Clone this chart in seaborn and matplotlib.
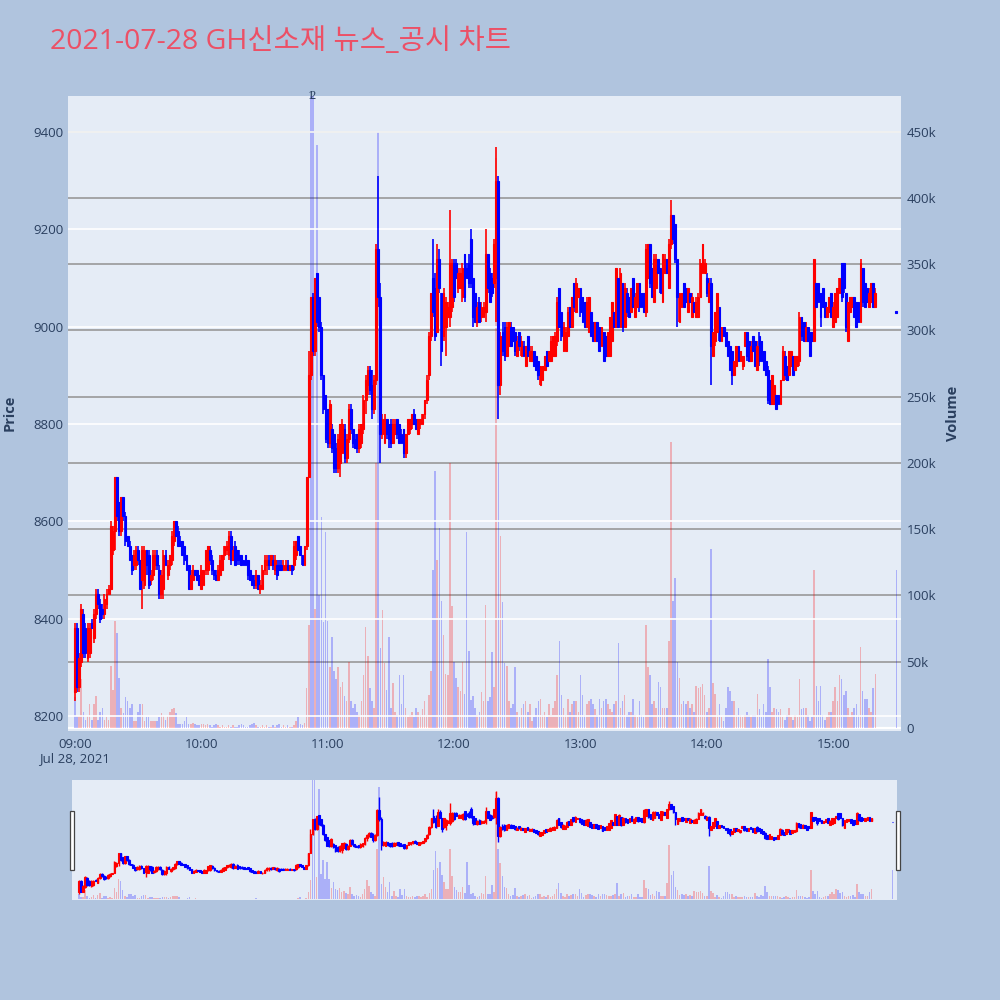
import numpy as np
import matplotlib
matplotlib.use("Agg")
import matplotlib.pyplot as plt
from matplotlib.patches import Rectangle
import seaborn as sns

sns.set_theme(style="white")
plt.rcParams['font.family'] = ['Open Sans', 'Noto Sans CJK KR', 'DejaVu Sans']

TITLE = "2021-07-28 GH신소재 뉴스_공시 차트"

# one candle per minute from 09:00
OPEN = [
    8250, 8380, 8260, 8310, 8410, 8380, 8320, 8330, 8390, 8360,
    8410, 8450, 8430, 8420, 8410, 8430, 8450, 8460, 8540, 8580,
    8690, 8640, 8580, 8650, 8610, 8570, 8550, 8530, 8510, 8510,
    8540, 8520, 8480, 8470, 8540, 8530, 8480, 8490, 8510, 8530,
    8500, 8450, 8460, 8530, 8490, 8510, 8520, 8560, 8600, 8580,
    8560, 8560, 8550, 8530, 8510, 8460, 8480, 8500, 8500, 8490,
    8460, 8470, 8500, 8500, 8540, 8520, 8500, 8490, 8480, 8490,
    8500, 8530, 8540, 8530, 8570, 8520, 8550, 8540, 8530, 8530,
    8520, 8530, 8520, 8500, 8490, 8480, 8470, 8490, 8460, 8460,
    8500, 8510, 8520, 8510, 8520, 8500, 8510, 8510, 8510, 8500,
    8500, 8510, 8500, 8510, 8510, 8530, 8570, 8550, 8530, 8510,
    8550, 8690, 8900, 9060, 8950, 9110, 9060, 9000, 8900, 8860,
    8830, 8760, 8790, 8780, 8750, 8710, 8720, 8740, 8790, 8730,
    8770, 8830, 8790, 8770, 8780, 8750, 8760, 8790, 8850, 8880,
    8910, 8880, 8830, 8890, 9160, 9060, 8780, 8760, 8810, 8800,
    8800, 8760, 8780, 8810, 8800, 8780, 8790, 8740, 8780, 8790,
    8800, 8820, 8810, 8780, 8800, 8800, 8820, 8850, 8900, 8980,
    9100, 9080, 8990, 9140, 9070, 8980, 9000, 9020, 9020, 9040,
    9130, 9130, 9080, 9080, 9060, 9150, 9120, 9130, 9180, 9100,
    9070, 9010, 9050, 9020, 9020, 9030, 9150, 9110, 9100, 9090,
    9100, 9300, 8880, 8990, 9000, 8940, 8960, 9000, 9000, 8990,
    8940, 8990, 8940, 8960, 8920, 8980, 8930, 8930, 8950, 8940,
    8930, 8880, 8890, 8910, 8950, 8930, 8930, 8940, 8940, 8970,
    9080, 9030, 8950, 8950, 8980, 9040, 9000, 9090, 9030, 9060,
    9080, 9060, 9050, 9000, 8990, 9030, 9010, 8970, 9010, 9000,
    8960, 8990, 8980, 8940, 8940, 8970, 9030, 9000, 9100, 9000,
    9090, 9000, 9070, 9060, 9030, 9100, 9020, 9040, 9090, 9070,
    9070, 9030, 9100, 9170, 9120, 9050, 9080, 9140, 9120, 9050,
    9110, 9140, 9080, 9170, 9230, 9210, 9140, 9010, 9040, 9090,
    9080, 9030, 9070, 9020, 9050, 9020, 9020, 9060, 9110, 9110,
    9100, 9050, 9090, 8940, 8970, 8990, 9040, 8970, 9000, 8990,
    8970, 8960, 8950, 8900, 8920, 8960, 8930, 8920, 8960, 8990,
    8970, 8930, 8980, 8970, 8910, 8980, 8970, 8950, 8930, 8910,
    8890, 8840, 8840, 8860, 8860, 8840, 8890, 8940, 8920, 8900,
    8920, 8940, 8910, 8920, 8930, 9020, 9010, 8970, 9000, 8990,
    8990, 8970, 9090, 9090, 9070, 9080, 9050, 9020, 9030, 9070,
    9000, 9010, 9020, 9070, 9130, 9130, 9070, 8970, 9030, 9040,
    9060, 9050, 9050, 9010, 9120, 9090, 9080, 9040, 9050, 9090,
    9040,
]
HIGH = [
    8390, 8390, 8330, 8430, 8420, 8390, 8390, 8390, 8400, 8420,
    8460, 8460, 8440, 8430, 8450, 8460, 8470, 8600, 8590, 8690,
    8690, 8640, 8650, 8650, 8620, 8570, 8560, 8530, 8540, 8550,
    8550, 8520, 8550, 8550, 8540, 8540, 8500, 8540, 8540, 8540,
    8510, 8500, 8540, 8540, 8520, 8530, 8580, 8600, 8600, 8590,
    8570, 8560, 8550, 8530, 8510, 8500, 8510, 8500, 8500, 8490,
    8510, 8500, 8540, 8550, 8550, 8530, 8500, 8500, 8510, 8530,
    8530, 8550, 8560, 8580, 8580, 8550, 8560, 8540, 8540, 8530,
    8520, 8530, 8520, 8500, 8490, 8490, 8500, 8490, 8480, 8510,
    8530, 8530, 8530, 8530, 8530, 8530, 8520, 8520, 8520, 8520,
    8520, 8520, 8510, 8510, 8560, 8560, 8570, 8550, 8530, 8550,
    8690, 8950, 9060, 9070, 9100, 9110, 9060, 9010, 8900, 8860,
    8830, 8850, 8800, 8780, 8760, 8780, 8800, 8810, 8800, 8780,
    8840, 8840, 8790, 8780, 8780, 8800, 8800, 8860, 8900, 8920,
    8920, 8910, 8900, 9170, 9310, 9090, 8820, 8820, 8810, 8800,
    8810, 8810, 8810, 8810, 8800, 8790, 8790, 8780, 8810, 8810,
    8820, 8830, 8810, 8810, 8810, 8820, 8850, 8900, 8990, 9070,
    9180, 9110, 9170, 9160, 9070, 9080, 9060, 9050, 9240, 9140,
    9140, 9140, 9120, 9120, 9130, 9150, 9130, 9150, 9200, 9100,
    9070, 9050, 9060, 9050, 9050, 9200, 9150, 9120, 9110, 9180,
    9370, 9310, 8990, 9010, 9010, 9010, 9010, 9010, 9000, 8990,
    8980, 8990, 8980, 8970, 8960, 8980, 8960, 8960, 8950, 8940,
    8930, 8920, 8920, 8940, 8950, 8950, 8980, 8980, 8990, 9060,
    9080, 9030, 9010, 9000, 9040, 9040, 9060, 9090, 9100, 9080,
    9080, 9060, 9050, 9060, 9060, 9030, 9010, 9010, 9010, 9000,
    9000, 8990, 8980, 8990, 9020, 9050, 9030, 9120, 9100, 9120,
    9090, 9090, 9080, 9060, 9080, 9100, 9070, 9090, 9090, 9070,
    9070, 9170, 9170, 9170, 9120, 9150, 9150, 9140, 9120, 9150,
    9150, 9140, 9180, 9260, 9230, 9210, 9140, 9070, 9070, 9090,
    9080, 9080, 9070, 9070, 9050, 9060, 9070, 9140, 9170, 9140,
    9110, 9100, 9100, 8990, 9030, 9070, 9040, 9000, 9000, 8990,
    8970, 8960, 8950, 8930, 8960, 8960, 8950, 8940, 8990, 8990,
    8970, 8970, 8980, 8970, 8970, 8990, 8970, 8950, 8930, 8920,
    8890, 8900, 8880, 8860, 8860, 8890, 8960, 8950, 8920, 8950,
    8950, 8940, 8940, 8940, 9030, 9020, 9010, 9010, 9000, 8990,
    8990, 9140, 9090, 9090, 9070, 9080, 9050, 9040, 9060, 9070,
    9050, 9070, 9080, 9100, 9130, 9130, 9070, 9050, 9060, 9060,
    9060, 9050, 9050, 9140, 9120, 9090, 9080, 9080, 9090, 9090,
    9080,
]
LOW = [
    8230, 8250, 8250, 8300, 8320, 8320, 8310, 8320, 8380, 8350,
    8400, 8420, 8390, 8400, 8400, 8420, 8450, 8460, 8530, 8540,
    8600, 8570, 8570, 8600, 8550, 8550, 8520, 8490, 8500, 8500,
    8510, 8460, 8420, 8460, 8490, 8460, 8470, 8480, 8500, 8500,
    8440, 8440, 8440, 8510, 8480, 8500, 8510, 8550, 8570, 8550,
    8550, 8530, 8510, 8500, 8460, 8460, 8480, 8490, 8480, 8470,
    8460, 8470, 8490, 8490, 8510, 8490, 8480, 8480, 8480, 8490,
    8500, 8520, 8530, 8520, 8510, 8520, 8510, 8510, 8510, 8510,
    8510, 8510, 8480, 8480, 8470, 8460, 8460, 8460, 8450, 8460,
    8490, 8490, 8500, 8510, 8500, 8490, 8480, 8500, 8500, 8500,
    8500, 8500, 8500, 8490, 8500, 8520, 8540, 8530, 8510, 8510,
    8540, 8690, 8890, 8940, 8940, 9000, 8990, 8890, 8820, 8760,
    8750, 8750, 8740, 8700, 8700, 8700, 8690, 8740, 8720, 8720,
    8760, 8780, 8750, 8750, 8740, 8740, 8750, 8780, 8820, 8860,
    8860, 8810, 8820, 8880, 9040, 8720, 8770, 8760, 8770, 8750,
    8750, 8760, 8780, 8770, 8760, 8760, 8730, 8730, 8780, 8780,
    8790, 8800, 8790, 8780, 8790, 8800, 8810, 8840, 8890, 8970,
    9020, 8970, 8990, 9070, 8920, 8970, 8940, 9020, 9000, 9030,
    9050, 9100, 9070, 9080, 9050, 9050, 9100, 9080, 9080, 9000,
    9010, 9000, 9010, 9010, 9020, 9010, 9070, 9050, 9060, 9080,
    9010, 8810, 8860, 8940, 8930, 8940, 8960, 8960, 8970, 8940,
    8940, 8950, 8940, 8940, 8920, 8940, 8930, 8930, 8920, 8910,
    8890, 8880, 8890, 8910, 8920, 8930, 8930, 8940, 8940, 8960,
    9000, 8970, 8950, 8950, 8980, 9000, 9000, 9030, 9030, 9060,
    9020, 9010, 9000, 9000, 8990, 8980, 8970, 8970, 8970, 8950,
    8960, 8930, 8940, 8940, 8940, 8970, 9000, 9000, 9000, 9000,
    8990, 9000, 9020, 9020, 9030, 9040, 9020, 9040, 9030, 9040,
    9030, 9020, 9100, 9080, 9060, 9050, 9080, 9110, 9070, 9050,
    9110, 9110, 9080, 9160, 9170, 9130, 9000, 9010, 9040, 9040,
    9050, 9030, 9050, 9020, 9030, 9020, 9020, 9060, 9110, 9110,
    9060, 9050, 8880, 8940, 8960, 8990, 8970, 8970, 8980, 8960,
    8940, 8910, 8880, 8900, 8920, 8930, 8930, 8910, 8960, 8930,
    8930, 8930, 8950, 8920, 8910, 8920, 8930, 8910, 8900, 8840,
    8840, 8840, 8840, 8830, 8840, 8840, 8890, 8890, 8890, 8900,
    8920, 8900, 8910, 8920, 8920, 8970, 8970, 8970, 8970, 8940,
    8970, 8970, 9040, 9050, 9000, 9040, 9020, 9020, 9030, 9020,
    9000, 9010, 9020, 9070, 9050, 9070, 8990, 8970, 9030, 9040,
    9020, 9000, 9010, 9010, 9040, 9040, 9050, 9040, 9050, 9040,
    9040,
]
CLOSE = [
    8380, 8260, 8320, 8420, 8330, 8330, 8380, 8380, 8380, 8410,
    8450, 8430, 8400, 8410, 8440, 8450, 8460, 8590, 8580, 8690,
    8610, 8580, 8650, 8610, 8560, 8550, 8520, 8500, 8530, 8540,
    8520, 8460, 8540, 8540, 8510, 8470, 8490, 8530, 8530, 8510,
    8450, 8490, 8530, 8510, 8510, 8530, 8570, 8600, 8570, 8550,
    8550, 8530, 8520, 8500, 8460, 8490, 8500, 8490, 8480, 8470,
    8500, 8500, 8540, 8550, 8520, 8500, 8490, 8480, 8500, 8520,
    8530, 8550, 8550, 8570, 8520, 8540, 8510, 8520, 8520, 8510,
    8510, 8510, 8490, 8480, 8470, 8470, 8490, 8460, 8470, 8500,
    8520, 8520, 8510, 8530, 8510, 8520, 8490, 8500, 8500, 8510,
    8510, 8500, 8510, 8500, 8550, 8560, 8540, 8530, 8510, 8550,
    8690, 8900, 9060, 8950, 9100, 9010, 9000, 8900, 8830, 8770,
    8760, 8840, 8750, 8710, 8710, 8770, 8800, 8800, 8730, 8770,
    8830, 8790, 8760, 8750, 8750, 8790, 8800, 8850, 8890, 8910,
    8870, 8830, 8890, 9160, 9060, 8780, 8810, 8810, 8780, 8770,
    8760, 8800, 8800, 8780, 8760, 8760, 8740, 8780, 8810, 8810,
    8820, 8800, 8790, 8810, 8810, 8820, 8850, 8890, 8980, 9070,
    9030, 8980, 9140, 9080, 8950, 9070, 9050, 9040, 9130, 9130,
    9060, 9100, 9110, 9110, 9120, 9060, 9100, 9090, 9090, 9020,
    9010, 9040, 9010, 9040, 9040, 9150, 9080, 9050, 9070, 9170,
    9300, 8880, 8980, 8950, 8940, 9000, 9010, 8960, 8970, 8950,
    8970, 8960, 8970, 8940, 8960, 8940, 8950, 8950, 8920, 8910,
    8900, 8920, 8920, 8940, 8920, 8950, 8970, 8980, 8980, 9050,
    9000, 8980, 9000, 8990, 9030, 9000, 9060, 9040, 9090, 9080,
    9030, 9010, 9000, 9050, 9060, 8980, 8970, 9010, 8970, 8950,
    9000, 8930, 8940, 8990, 9020, 9050, 9000, 9120, 9000, 9110,
    9000, 9080, 9030, 9020, 9080, 9040, 9060, 9090, 9040, 9040,
    9030, 9160, 9170, 9090, 9060, 9140, 9140, 9110, 9070, 9150,
    9140, 9110, 9170, 9230, 9180, 9140, 9060, 9070, 9070, 9040,
    9050, 9080, 9050, 9060, 9030, 9050, 9060, 9130, 9170, 9130,
    9070, 9090, 8960, 8990, 9030, 9070, 8970, 9000, 8980, 8960,
    8940, 8910, 8900, 8930, 8960, 8930, 8950, 8940, 8990, 8940,
    8930, 8960, 8950, 8920, 8960, 8930, 8930, 8910, 8900, 8850,
    8840, 8900, 8880, 8830, 8840, 8890, 8950, 8900, 8890, 8950,
    8950, 8900, 8940, 8940, 9020, 8980, 8970, 9000, 8970, 8940,
    8970, 9140, 9040, 9050, 9020, 9040, 9020, 9040, 9060, 9020,
    9040, 9070, 9080, 9100, 9060, 9080, 9000, 9050, 9060, 9060,
    9020, 9000, 9010, 9130, 9050, 9040, 9050, 9070, 9090, 9040,
    9070,
]
VOLUME_K = [
    23, 9, 9, 37, 12, 6, 9, 18, 6, 18,
    24, 6, 12, 15, 6, 8, 6, 47, 29, 81,
    72, 38, 15, 11, 23, 20, 15, 18, 5, 5,
    12, 18, 18, 5, 8, 8, 5, 5, 5, 5,
    8, 11, 9, 6, 9, 12, 14, 15, 11, 3,
    3, 3, 5, 8, 3, 3, 4, 3, 2, 2,
    3, 3, 2, 3, 2, 1, 2, 3, 2, 1,
    2, 1, 1, 2, 1, 2, 1, 1, 2, 3,
    2, 1, 1, 2, 3, 4, 2, 1, 1, 2,
    1, 2, 1, 1, 2, 1, 2, 3, 1, 2,
    1, 2, 1, 1, 2, 5, 8, 3, 2, 4,
    30, 78, 500, 500, 90, 440, 100, 159, 80, 148,
    81, 46, 69, 43, 37, 46, 31, 35, 24, 20,
    50, 20, 15, 18, 12, 10, 20, 40, 76, 54,
    30, 20, 15, 200, 450, 60, 89, 49, 29, 69,
    15, 34, 12, 10, 40, 18, 40, 15, 8, 10,
    12, 8, 15, 12, 10, 14, 20, 10, 25, 43,
    119, 194, 127, 151, 96, 70, 41, 40, 200, 92,
    50, 38, 31, 28, 50, 26, 148, 58, 21, 24,
    15, 10, 12, 27, 20, 93, 20, 23, 57, 31,
    430, 200, 145, 95, 49, 47, 20, 15, 18, 46,
    12, 8, 15, 18, 20, 12, 18, 5, 8, 15,
    20, 22, 10, 12, 8, 18, 10, 15, 20, 40,
    66, 25, 15, 10, 22, 12, 18, 20, 20, 12,
    40, 25, 10, 18, 20, 22, 18, 14, 10, 22,
    15, 20, 22, 18, 14, 12, 18, 20, 64, 15,
    20, 25, 10, 12, 12, 22, 10, 8, 20, 10,
    8, 78, 46, 40, 18, 20, 15, 35, 31, 15,
    15, 15, 66, 216, 96, 113, 50, 38, 18, 20,
    18, 20, 15, 18, 12, 32, 30, 31, 33, 25,
    12, 15, 135, 34, 26, 10, 18, 8, 5, 15,
    31, 28, 20, 20, 10, 15, 10, 8, 10, 12,
    10, 8, 10, 10, 26, 14, 8, 18, 12, 52,
    31, 12, 15, 14, 12, 14, 8, 6, 10, 15,
    8, 6, 10, 8, 37, 14, 15, 15, 10, 5,
    8, 119, 32, 20, 32, 10, 6, 8, 12, 12,
    20, 31, 20, 40, 37, 25, 28, 15, 8, 12,
    15, 18, 10, 61, 28, 22, 22, 15, 12, 30,
    41,
]
VOLUME_BLUE_AT = [0, 112]          # minutes whose volume bar is blue although the candle rose

AUCTION_MINUTE = 390                # 15:30 closing single price
AUCTION_PRICE = 9030
AUCTION_VOLUME_K = 119

NEWS_MINUTES = [112, 113]
NEWS_LABELS = ["1", "2"]

TIME_TICK_MINUTES = [0, 60, 120, 180, 240, 300, 360]
TIME_TICK_LABELS = ["09:00\nJul 28, 2021", "10:00", "11:00", "12:00", "13:00", "14:00", "15:00"]
PRICE_TICKS = [8200, 8400, 8600, 8800, 9000, 9200, 9400]
VOLUME_TICKS = [0, 50000, 100000, 150000, 200000, 250000, 300000, 350000, 400000, 450000]
VOLUME_TICK_LABELS = ["0", "50k", "100k", "150k", "200k", "250k", "300k", "350k", "400k", "450k"]

INC = "#ff0000"
DEC = "#0000ff"
INC_FADE = (1.0, 0.0, 0.0, 0.25)
DEC_FADE = (0.0, 0.0, 1.0, 0.25)
BG = "#e5ecf6"
PAPER = "#b0c4de"
TXT = "#2a3f5f"


def draw_market(ax_p, ax_v, body_w=0.85, wick_lw=1.2, edge_lw=0.8):
    o = np.array(OPEN, float)
    h = np.array(HIGH, float)
    l = np.array(LOW, float)
    c = np.array(CLOSE, float)
    x = np.arange(len(c))
    up = c > o
    cols = np.where(up, INC, DEC)
    vcols = [DEC_FADE if (i in VOLUME_BLUE_AT or not up[i]) else INC_FADE for i in range(len(x))]
    ax_v.bar(x, np.array(VOLUME_K) * 1000, width=0.75, color=vcols, linewidth=0, zorder=2)
    ax_v.bar([AUCTION_MINUTE], [AUCTION_VOLUME_K * 1000], width=0.75, color=[DEC_FADE],
             linewidth=0, zorder=2)
    lo = np.minimum(l, np.minimum(o, c))
    hi = np.maximum(h, np.maximum(o, c))
    ax_p.vlines(x, lo, hi, colors=cols, linewidth=wick_lw, zorder=3)
    bottoms = np.minimum(o, c)
    heights = np.maximum(np.abs(c - o), 4)
    ax_p.bar(x, heights, bottom=bottoms, width=body_w, color=cols, edgecolor=cols,
             linewidth=edge_lw, zorder=4)
    ax_p.bar([AUCTION_MINUTE], [4], bottom=[AUCTION_PRICE - 2], width=body_w, color=DEC,
             edgecolor=DEC, linewidth=edge_lw, zorder=4)


fig = plt.figure(figsize=(10, 10), dpi=100)
fig.patch.set_facecolor(PAPER)

XLIM = (-3.3, 392.2)

# ---- main chart ----
ax_p = fig.add_axes([0.068, 0.269, 0.833, 0.635])
ax_v = ax_p.twinx()
ax_v.set_zorder(0)
ax_p.set_zorder(1)
ax_p.patch.set_visible(False)
ax_v.patch.set_visible(True)
ax_v.patch.set_facecolor(BG)

draw_market(ax_p, ax_v)

ax_p.set_xlim(*XLIM)
ax_p.set_ylim(8169, 9474)
ax_v.set_ylim(-2300, 477000)

ax_p.set_yticks(PRICE_TICKS)
ax_p.set_yticklabels([str(v) for v in PRICE_TICKS])
ax_v.set_yticks(VOLUME_TICKS)
ax_v.set_yticklabels(VOLUME_TICK_LABELS)
ax_p.set_xticks(TIME_TICK_MINUTES)
ax_p.set_xticklabels(TIME_TICK_LABELS, linespacing=1.15)

ax_p.tick_params(axis="y", length=0, pad=3, labelsize=9.5, labelcolor=TXT)
ax_v.tick_params(axis="y", length=0, pad=4, labelsize=9.5, labelcolor=TXT)
ax_p.tick_params(axis="x", length=0, pad=5, labelsize=9.5, labelcolor=TXT)

ax_p.yaxis.grid(True, color="white", linewidth=1.2, zorder=0.5)
ax_p.xaxis.grid(False)
ax_v.yaxis.grid(True, color="#999999", linewidth=1.2)
ax_v.xaxis.grid(False)
ax_v.axhline(0, color="white", linewidth=1.6, zorder=1)
ax_p.set_axisbelow(True)
ax_v.set_axisbelow(True)

for a in (ax_p, ax_v):
    for s in a.spines.values():
        s.set_visible(False)

for m, lab in zip(NEWS_MINUTES, NEWS_LABELS):
    ax_v.text(m, 477000, lab, ha="center", va="center", fontsize=9, color=TXT,
              family=["Liberation Serif", "DejaVu Serif"], clip_on=False, zorder=6)

fig.text(0.010, 0.587, "Price", rotation=90, ha="center", va="center",
         fontsize=10.5, fontweight="bold", color=TXT)
fig.text(0.953, 0.587, "Volume", rotation=90, ha="center", va="center",
         fontsize=10.5, fontweight="bold", color=TXT)

fig.text(0.050, 0.958, TITLE, ha="left", va="center", fontsize=20.5, color="#ec5066",
         family=["Open Sans", "Noto Sans CJK KR", "DejaVu Sans"])

# ---- range slider ----
ax_s = fig.add_axes([0.072, 0.100, 0.825, 0.120])
ax_sv = ax_s.twinx()
ax_sv.set_zorder(0)
ax_s.set_zorder(1)
ax_s.patch.set_visible(False)
ax_sv.patch.set_visible(True)
ax_sv.patch.set_facecolor(BG)
draw_market(ax_s, ax_sv, body_w=0.8, wick_lw=1.0, edge_lw=0.8)
ax_s.set_xlim(*XLIM)
ax_s.set_ylim(8166, 9497)
ax_sv.set_ylim(-2300, 477000)
for a in (ax_s, ax_sv):
    a.set_xticks([])
    a.set_yticks([])
    a.grid(False)
    for s in a.spines.values():
        s.set_visible(False)

for hx in (0.0695, 0.8955):
    fig.add_artist(Rectangle((hx, 0.130), 0.004, 0.059, transform=fig.transFigure,
                             facecolor="white", edgecolor="#444444", linewidth=0.9))

fig.savefig("out.png", dpi=100, facecolor=fig.get_facecolor())
